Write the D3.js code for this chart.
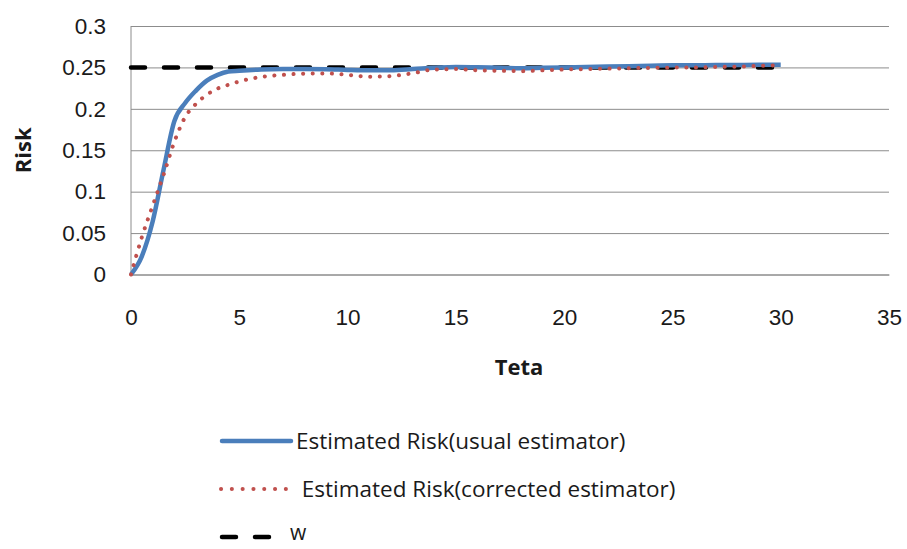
<!DOCTYPE html>
<html>
<head>
<meta charset="utf-8">
<script src="https://cdn.jsdelivr.net/npm/d3@7"></script>
<style>
  body { margin: 0; background: #fff; }
  svg { font-family: "Open Sans", sans-serif; }
  .axis text { font-size: 22.5px; fill: #1a1a1a; }
  .grid line { stroke: #8c8c8c; stroke-width: 1; }
</style>
</head>
<body>
<svg id="chart"></svg>
<script>
// teta values and estimated risks
const teta = [0, 0.5, 1, 1.5, 2, 2.5, 3, 3.5, 4, 4.5, 5, 6, 7, 8, 9, 10, 11, 12, 13, 14, 15,
  16, 17, 18, 19, 20, 21, 22, 23, 24, 25, 26, 27, 28, 29, 30];
const usualRisk = [0, 0.022, 0.064, 0.126, 0.185, 0.207, 0.222, 0.234, 0.241, 0.245, 0.246, 0.2475, 0.248, 0.248, 0.2478, 0.247, 0.2465, 0.2467, 0.248, 0.2495, 0.2505,
  0.2502, 0.2495, 0.249, 0.2495, 0.25, 0.2505, 0.251, 0.2515, 0.252, 0.2525, 0.2527, 0.2528, 0.253, 0.2532, 0.2533];
const correctedRisk = [0, 0.045, 0.083, 0.12, 0.16, 0.19, 0.206, 0.217, 0.2245, 0.229, 0.233, 0.2385, 0.241, 0.2425, 0.2428, 0.241, 0.2388, 0.2395, 0.243, 0.2475, 0.248,
  0.2465, 0.246, 0.2455, 0.2465, 0.2475, 0.248, 0.2485, 0.249, 0.2495, 0.2498, 0.25, 0.2505, 0.251, 0.2518, 0.2527];
const wValue = 0.25;
const yTicks = [0, 0.05, 0.1, 0.15, 0.2, 0.25, 0.3];
const xTicks = [0, 5, 10, 15, 20, 25, 30, 35];
const seriesNames = ["Estimated Risk(usual estimator)", " Estimated Risk(corrected estimator)", "w"];

const config = {
  width: 907, height: 549,
  margin: {top: 26, right: 18, bottom: 274.5, left: 131}
};

const svg = d3.select('#chart')
  .attr('width', config.width)
  .attr('height', config.height);

// scales, Excel style plot area
const xScale = d3.scaleLinear().domain([0, 35]).range([131, 889]);
const yScale = d3.scaleLinear().domain([0, 0.3]).range([274.5, 26]);

// horizontal gridlines + y labels
const yAxis = d3.axisLeft(yScale)
  .tickValues(yTicks)
  .tickSize(-(889 - 131))
  .tickPadding(25)
  .tickFormat(d => d3.format('')(+d.toFixed(2)));

const yAxisG = svg.append('g')
  .attr('class', 'axis grid')
  .attr('transform', 'translate(131,0)')
  .call(yAxis);
yAxisG.select('.domain').remove();

// left axis line
svg.append('line')
  .attr('x1', 131).attr('x2', 131)
  .attr('y1', yScale(0.3)).attr('y2', yScale(0))
  .attr('stroke', '#8c8c8c');

const xAxis = d3.axisBottom(xScale)
  .tickValues(xTicks)
  .tickSize(0)
  .tickPadding(35);

const xAxisG = svg.append('g')
  .attr('class', 'axis')
  .attr('transform', `translate(0,${yScale(0)})`)
  .call(xAxis);
xAxisG.select('.domain').attr('stroke', '#8c8c8c');

// axis titles
svg.append('text')
  .attr('transform', `translate(31,${(yScale(0) + yScale(0.3)) / 2}) rotate(-90)`)
  .attr('text-anchor', 'middle')
  .attr('font-weight', 'bold')
  .attr('font-size', 22)
  .attr('fill', '#1a1a1a')
  .text('Risk');

svg.append('text')
  .attr('x', (xScale(0) + xScale(35)) / 2 + 9)
  .attr('y', 375)
  .attr('text-anchor', 'middle')
  .attr('font-weight', 'bold')
  .attr('font-size', 22)
  .attr('fill', '#1a1a1a')
  .text('Teta');

const line = d3.line()
  .x(d => xScale(d[0]))
  .y(d => yScale(d[1]))
  .curve(d3.curveMonotoneX);

// w line (dashed)
svg.append('path')
  .datum([[0, wValue], [30, wValue]])
  .attr('d', line)
  .attr('fill', 'none')
  .attr('stroke', '#000')
  .attr('stroke-width', 4.5)
  .attr('stroke-linecap', 'round')
  .attr('stroke-dasharray', '14 19');

// usual estimator
svg.append('path')
  .datum(teta.map((t, i) => [t, usualRisk[i]]))
  .attr('d', line)
  .attr('fill', 'none')
  .attr('stroke', '#4a7ebb')
  .attr('stroke-width', 4.5)
  .attr('stroke-linejoin', 'round');

// corrected estimator
svg.append('path')
  .datum(teta.map((t, i) => [t, correctedRisk[i]]))
  .attr('d', line)
  .attr('fill', 'none')
  .attr('stroke', '#c0504d')
  .attr('stroke-width', 4)
  .attr('stroke-linecap', 'round')
  .attr('stroke-dasharray', '0.1 9.5');

// legend
const legend = svg.append('g').attr('class', 'legend');
const legendY = [441, 489, 537];
const legendTextY = [441, 489, 533];

legend.append('line')
  .attr('x1', 222).attr('x2', 291)
  .attr('y1', legendY[0]).attr('y2', legendY[0])
  .attr('stroke', '#4a7ebb').attr('stroke-width', 4.5).attr('stroke-linecap', 'round');
legend.append('line')
  .attr('x1', 221).attr('x2', 286)
  .attr('y1', legendY[1]).attr('y2', legendY[1])
  .attr('stroke', '#c0504d').attr('stroke-width', 4).attr('stroke-linecap', 'round')
  .attr('stroke-dasharray', '0.1 10.7');
legend.append('line')
  .attr('x1', 222).attr('x2', 275)
  .attr('y1', legendY[2]).attr('y2', legendY[2])
  .attr('stroke', '#000').attr('stroke-width', 4.5).attr('stroke-linecap', 'round')
  .attr('stroke-dasharray', '14 19');

legend.selectAll('text.lbl')
  .data(seriesNames)
  .join('text')
  .attr('class', 'lbl')
  .attr('x', (d, i) => [296, 296, 290][i])
  .attr('y', (d, i) => legendTextY[i])
  .attr('dy', '0.35em')
  .attr('font-size', (d, i) => i === 2 ? 21 : 22.5)
  .attr('fill', '#1a1a1a')
  .attr('xml:space', 'preserve')
  .text(d => d);
</script>
</body>
</html>
